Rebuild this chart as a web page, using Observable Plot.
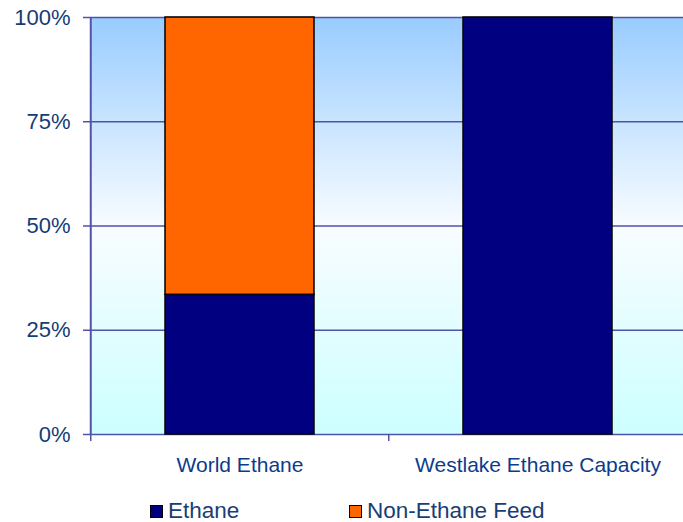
<!DOCTYPE html>
<html>
<head>
<meta charset="utf-8">
<script src="https://cdn.jsdelivr.net/npm/d3@7"></script>
<script src="https://cdn.jsdelivr.net/npm/@observablehq/plot@0.6"></script>
<style>
  html, body { margin: 0; padding: 0; background: #fff; }
  #wrap { position: relative; width: 683px; height: 522px; overflow: hidden; font-family: "Liberation Sans", Arial, sans-serif; }
  .leg { position: absolute; display: flex; align-items: center; font-size: 22.5px; line-height: 26px; color: #183e74; white-space: nowrap; }
  .sw { width: 11px; height: 11px; border: 1px solid #000; margin-right: 5px; }
</style>
</head>
<body>
<div id="wrap"></div>
<script>
const categories = ["World Ethane", "Westlake Ethane Capacity"];
const series = ["Ethane", "Non-Ethane Feed"];
const ethane = [0.335, 1.0];
const nonEthane = [0.665, 0.0];
const yTicks = [0, 0.25, 0.5, 0.75, 1];
const seriesColors = ["#000080", "#ff6600"];

const gridColor = "#5252a8";
const yLabelColor = "#143c74";
const xLabelColor = "#0d3b8c";

const data = categories.flatMap((c, i) => [
  {cat: c, series: series[0], value: ethane[i]},
  {cat: c, series: series[1], value: nonEthane[i]}
]).filter(d => d.value > 0);

const plot = Plot.plot({
  width: 683,
  height: 480,
  marginTop: 17,
  marginBottom: 46,
  marginLeft: 90,
  marginRight: 0,
  style: {fontFamily: "'Liberation Sans', Arial, sans-serif", fontSize: "21px", background: "transparent", overflow: "visible"},
  x: {domain: categories, range: [90, 687], paddingInner: 0.5, paddingOuter: 0.25, label: null},
  y: {domain: [0, 1], label: null},
  color: {domain: series, range: seriesColors},
  marks: [
    Plot.frame({fill: "white", stroke: null}),
    Plot.ruleY(yTicks, {stroke: gridColor, strokeWidth: 1.5}),
    Plot.barY(data, {x: "cat", y: "value", fill: "series", stroke: "#000", strokeWidth: 1.5, order: series}),
    Plot.ruleX([categories[0]], {dx: -149.25, y1: 0, y2: 1, stroke: gridColor, strokeWidth: 2}),
    Plot.axisX({tickSize: 7, text: null, dx: -149.25, stroke: gridColor, strokeWidth: 1.5, label: null}),
    Plot.axisX({tickSize: 0, tickPadding: 23, fill: xLabelColor, fontSize: 21, label: null}),
    Plot.axisY({ticks: yTicks, tickFormat: d3.format(".0%"), tickSize: 7, tickPadding: 13, stroke: gridColor, strokeWidth: 1.5, fill: yLabelColor, fontSize: 22, label: null})
  ]
});

// background gradient for the plot frame
const ns = "http://www.w3.org/2000/svg";
const defs = document.createElementNS(ns, "defs");
const grad = document.createElementNS(ns, "linearGradient");
grad.setAttribute("id", "bg");
grad.setAttribute("x1", "0"); grad.setAttribute("y1", "0");
grad.setAttribute("x2", "0"); grad.setAttribute("y2", "1");
[["0", "#99ccff"], ["0.5", "#f8fcff"], ["1", "#ccffff"]].forEach(([o, c]) => {
  const s = document.createElementNS(ns, "stop");
  s.setAttribute("offset", o); s.setAttribute("stop-color", c);
  grad.appendChild(s);
});
defs.appendChild(grad);
plot.insertBefore(defs, plot.firstChild);
plot.querySelectorAll('[aria-label="frame"]').forEach(el => {
  if (el.tagName.toLowerCase() === "rect") el.setAttribute("fill", "url(#bg)");
  el.querySelectorAll && el.querySelectorAll("rect").forEach(r => r.setAttribute("fill", "url(#bg)"));
});

const wrap = document.getElementById("wrap");
wrap.appendChild(plot);
plot.style.position = "absolute";
plot.style.left = "0"; plot.style.top = "0";

// legend below the chart
const legendPos = [150, 349];
series.forEach((s, i) => {
  const item = document.createElement("div");
  item.className = "leg";
  item.style.left = legendPos[i] + "px";
  item.style.top = "498px";
  const sw = document.createElement("span");
  sw.className = "sw";
  sw.style.background = seriesColors[i];
  const t = document.createElement("span");
  t.textContent = s;
  item.appendChild(sw); item.appendChild(t);
  wrap.appendChild(item);
});
</script>
</body>
</html>
